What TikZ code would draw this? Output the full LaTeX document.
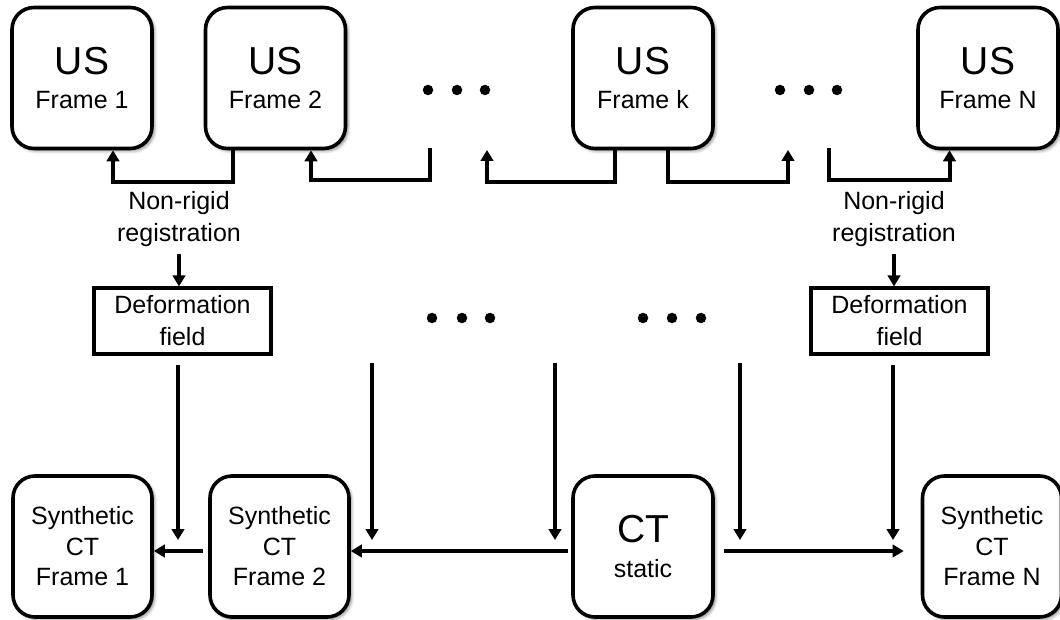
\documentclass[tikz,border=0pt]{standalone}
\usepackage{fontspec}
\setmainfont{Liberation Sans}
\usetikzlibrary{arrows.meta,shadows.blur,calc}

\newcommand\fsbig{\fontsize{39}{34}\selectfont}

\tikzset{
  rbox/.style={draw, line width=3.6pt, rounded corners=22pt, fill=white,
    align=center, inner sep=0pt,
    blur shadow={shadow xshift=2.5pt, shadow yshift=-2.5pt,
                 shadow blur radius=3pt, shadow opacity=45}},
  usbox/.style={rbox, minimum width=140pt, minimum height=141pt,
    font=\fontsize{25}{34}\selectfont},
  synbox/.style={rbox, minimum width=139pt, minimum height=141pt,
    font=\fontsize{25}{30.5}\selectfont},
  ctbox/.style={rbox, minimum width=140pt, minimum height=141pt,
    font=\fontsize{25}{35}\selectfont},
  defbox/.style={draw, line width=3.2pt, fill=white, align=center, inner sep=0pt,
    minimum width=177pt, minimum height=66pt,
    font=\fontsize{25}{32}\selectfont},
  regtxt/.style={align=center, inner sep=0pt,
    font=\fontsize{25}{31.5}\selectfont},
  arr/.style={line width=4pt, -{Triangle[length=11pt,width=12.5pt]}},
  gapdot/.style={circle, fill, inner sep=0pt, minimum size=10.5pt},
}

\begin{document}
\begin{tikzpicture}[x=1pt,y=-1pt]
\useasboundingbox (0,0) rectangle (1060,620);

% ultrasound frames
\node[usbox] (us1) at (82,78)    {{\fsbig US}\\Frame 1};
\node[usbox] (us2) at (275.5,78) {{\fsbig US}\\Frame 2};
\node[usbox] (usk) at (643,78)   {{\fsbig US}\\Frame k};
\node[usbox] (usN) at (988,78)   {{\fsbig US}\\Frame N};

% ellipses between frames
\foreach \i/\x in {1/428,2/457,3/485,4/780,5/809,6/837}
  \node[gapdot] (td\i) at (\x,90) {};
\foreach \i/\x in {1/432,2/462,3/490,4/643,5/672,6/701}
  \node[gapdot] (md\i) at (\x,318) {};

% free ends of the registration chain
\coordinate (g1a) at (430,148);
\coordinate (g1b) at (487,150);
\coordinate (g2a) at (788,150);
\coordinate (g2b) at (829,148);

% registration chain between neighbouring frames
\draw[arr] ([xshift=-42.5pt]us2.south) -- ++(0,32) -| ([xshift=31pt]us1.south);
\draw[arr] (g1a) -- ++(0,32) -| ([xshift=35.5pt]us2.south);
\draw[arr] ([xshift=-28pt]usk.south) -- ++(0,32) -| (g1b);
\draw[arr] ([xshift=25pt]usk.south) -- ++(0,32) -| (g2a);
\draw[arr] (g2b) -- ++(0,32) -| ([xshift=-38.5pt]usN.south);

% registration labels and deformation fields
\node[regtxt] (reg1) at (179,219) {Non-rigid\\registration};
\node[regtxt] (reg2) at (894,219) {Non-rigid\\registration};
\node[defbox] (def1) at (182.5,321) {Deformation\\field};
\node[defbox] (def2) at (899.5,321) {Deformation\\field};
\draw[arr] ([yshift=-7pt]reg1.south) -- (reg1.south |- def1.north);
\draw[arr] ([yshift=-7pt]reg2.south) -- (reg2.south |- def2.north);

% CT row
\node[synbox] (syn1) at (82.5,546.5)  {Synthetic\\CT\\Frame 1};
\node[synbox] (syn2) at (279.5,546.5) {Synthetic\\CT\\Frame 2};
\node[ctbox]  (ct)   at (643,546.5)   {{\fsbig CT}\\static};
\node[synbox] (synN) at (992,546.5)   {Synthetic\\CT\\Frame N};

% warping arrows coming down onto the CT row
\coordinate (v1) at (178,540);
\coordinate (v2s) at (372,363);
\coordinate (v2) at (372,540);
\coordinate (v3s) at (555,363);
\coordinate (v3) at (555,540);
\coordinate (v4s) at (740,363);
\coordinate (v4) at (740,540);
\coordinate (v5) at (893,540);
\draw[arr, shorten <=9pt] (def1.south -| v1) -- (v1);
\draw[arr] (v2s) -- (v2);
\draw[arr] (v3s) -- (v3);
\draw[arr] (v4s) -- (v4);
\draw[arr, shorten <=9pt] (def2.south -| v5) -- (v5);

% propagation along the CT row
\coordinate (hrow) at (0,551);
\draw[arr, shorten <=5pt] (syn2.west |- hrow) -- (syn1.east |- hrow);
\draw[arr, shorten <=3pt] (ct.west |- hrow) -- (syn2.east |- hrow);
\draw[arr, shorten <=9pt, shorten >=17pt] (ct.east |- hrow) -- (synN.west |- hrow);
\end{tikzpicture}
\end{document}
